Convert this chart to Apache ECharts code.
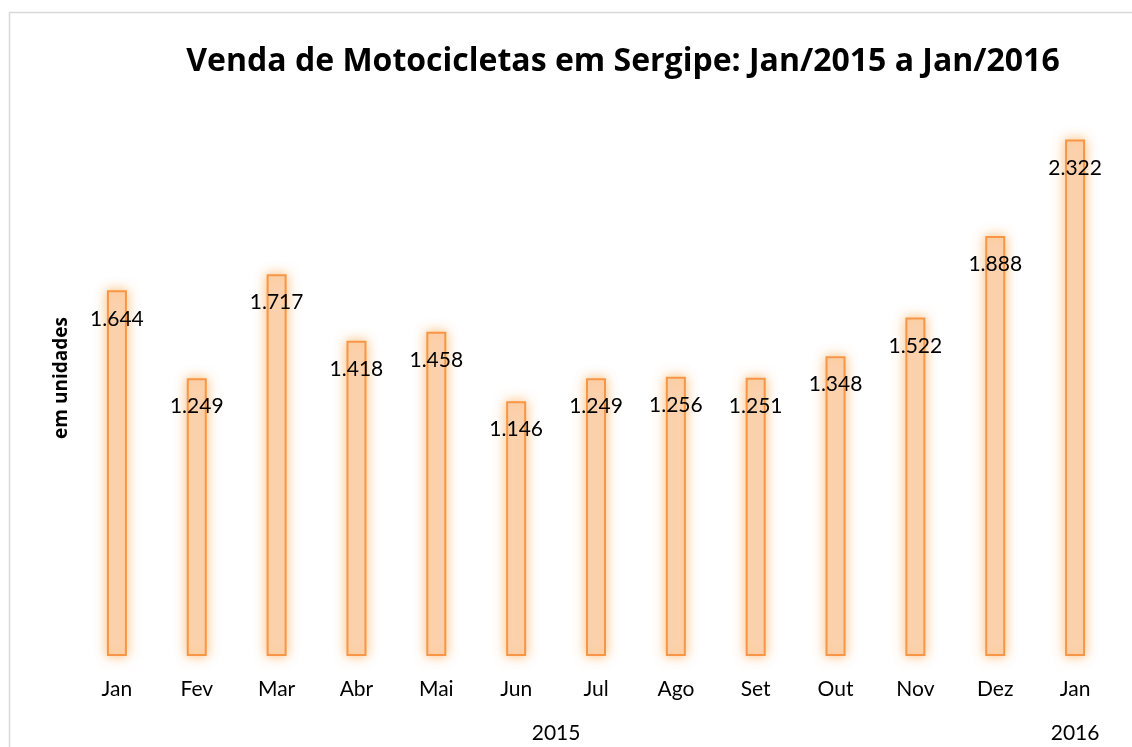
<!DOCTYPE html>
<html>
<head>
<meta charset="utf-8">
<script src="https://cdn.jsdelivr.net/npm/echarts@6/dist/echarts.min.js"></script>
</head>
<body style="margin:0">
<div id="main" style="width:1132px;height:747px;"></div>
<script type="text/javascript">
// meses e vendas (unidades)
var months = ['Jan', 'Fev', 'Mar', 'Abr', 'Mai', 'Jun', 'Jul', 'Ago', 'Set', 'Out', 'Nov', 'Dez', 'Jan'];
var sales = [1644, 1249, 1717, 1418, 1458, 1146, 1249, 1256, 1251, 1348, 1522, 1888, 2322];
var years = ['2015', '2016'];
var yearMonths = [12, 1];

// centro de cada ano no eixo de meses
var yearCenters = [];
var acc = 0;
for (var i = 0; i < years.length; i++) {
    yearCenters.push(acc + yearMonths[i] / 2);
    acc += yearMonths[i];
}

var font = 'Lato, "Open Sans", sans-serif';
var titleFont = '"Open Sans", Lato, sans-serif';

var option = {
    animation: false,
    backgroundColor: '#fff',
    graphic: [{
        type: 'rect',
        shape: { x: 9.5, y: 12.5, width: 1200, height: 800 },
        style: { fill: 'none', stroke: '#d9d9d9', lineWidth: 1.5 }
    }],
    title: {
        text: 'Venda de Motocicletas em Sergipe: Jan/2015 a Jan/2016',
        left: 618,
        textAlign: 'center',
        top: 41,
        textStyle: { fontFamily: titleFont, fontSize: 32, fontWeight: 'bold', color: '#000' }
    },
    grid: { left: 77, right: 17, top: 100, bottom: 91 },
    xAxis: [{
        type: 'category',
        data: months,
        axisLine: { show: false },
        axisTick: { show: false },
        axisLabel: { fontFamily: font, fontSize: 21, color: '#000', margin: 23 }
    }, {
        type: 'value',
        position: 'bottom',
        min: 0,
        max: months.length,
        axisLine: { show: false },
        axisTick: { show: false },
        splitLine: { show: false },
        axisLabel: {
            customValues: yearCenters,
            fontFamily: font, fontSize: 21, color: '#000', margin: 67,
            formatter: function (v) {
                var k = yearCenters.indexOf(v);
                return k >= 0 ? years[k] : '';
            }
        }
    }],
    yAxis: {
        type: 'value',
        min: 0,
        max: 2500,
        name: 'em unidades',
        nameLocation: 'middle',
        nameGap: 6,
        nameRotate: 90,
        nameTextStyle: { fontFamily: titleFont, fontSize: 19, fontWeight: 'bold', color: '#000' },
        axisLine: { show: false },
        axisTick: { show: false },
        axisLabel: { show: false },
        splitLine: { show: false }
    },
    series: [{
        type: 'bar',
        data: sales,
        barWidth: 20,
        itemStyle: {
            color: '#fcd5b4',
            borderColor: '#f79646',
            borderWidth: 2,
            shadowBlur: 12,
            shadowColor: 'rgba(250,170,80,0.75)'
        },
        label: {
            show: true,
            position: 'insideTop',
            distance: 18,
            fontFamily: font,
            fontSize: 21,
            color: '#000',
            formatter: function (p) {
                return p.value.toLocaleString('pt-BR');
            }
        }
    }]
};

var myChart = echarts.init(document.getElementById('main'));
myChart.setOption(option);
</script>
</body>
</html>
